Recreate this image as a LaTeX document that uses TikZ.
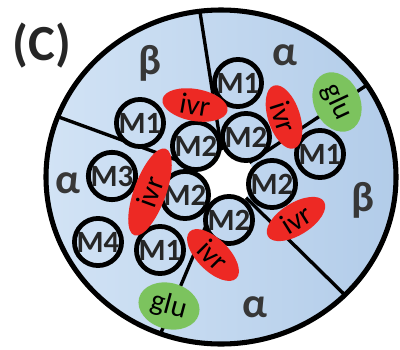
\documentclass[tikz,border=0pt]{standalone}
\usepackage{fontspec}
\setmainfont{Carlito}
\usetikzlibrary{shapes.geometric}
\definecolor{bgL}{RGB}{210,227,245}
\definecolor{bgR}{RGB}{178,204,233}
\definecolor{ivrred}{RGB}{237,41,36}
\definecolor{glugreen}{RGB}{124,195,94}
\definecolor{txtgray}{RGB}{55,55,55}

\begin{document}
\begin{tikzpicture}[x=0.25mm,y=-0.25mm,
  mol/.style={circle,draw=black,line width=3.4pt,minimum size=11mm,inner sep=0pt,
    font=\fontsize{22}{22}\selectfont\bfseries,text=black!85},
  ivr/.style={ellipse,fill=ivrred,minimum width=16.5mm,minimum height=8mm,inner sep=0pt,
    font=\fontsize{21}{21}\selectfont},
  glu/.style={ellipse,fill=glugreen,minimum width=15.5mm,minimum height=11.5mm,inner sep=0pt,
    font=\fontsize{21}{21}\selectfont},
  sub/.style={font=\fontsize{30}{30}\selectfont\bfseries,text=txtgray}]
\useasboundingbox (0,0) rectangle (400,349);
\coordinate (O) at (221,177);
\coordinate (H) at (226,178);
\shade[left color=bgL,right color=bgR] (O) ellipse [x radius=43.75mm,y radius=41.75mm];
% subunit borders
\begin{scope}
\clip (O) ellipse [x radius=43.75mm,y radius=41.75mm];
\foreach \p in {(200,12),(56,116),(367,85),(350,300),(160,335)}
  \draw[line width=2.4pt] (H) -- \p;
\end{scope}
\fill[white] (H) circle [radius=7mm];
% membrane domains
\foreach \n/\x/\y in {m1t/238/83,m1l/140/123,m1r/320/154,m1b/160/250,
  m2a/196/146,m2b/246/137,m2c/272/184,m2d/229/220,m2e/185/195,m3/112/176,m4/98/242}
  \coordinate (\n) at (\x,\y);
\foreach \n in {m1t,m1l,m1r,m1b,m2a,m2b,m2c,m2d,m2e,m3,m4}{
  \begin{scope}
  \clip (\n) circle [radius=5.6mm];
  \shade[left color=bgL,right color=bgR] (O) ellipse [x radius=43.75mm,y radius=41.75mm];
  \end{scope}}
\foreach \n/\t in {m1t/M1,m1l/M1,m1r/M1,m1b/M1,m2a/M2,m2b/M2,m2c/M2,m2d/M2,m2e/M2,m3/M3,m4/M4}
  \node[mol] (c\n) at (\n) {\t};
% ligand sites
\node[ivr,rotate=-10] (ivr1) at (195,105) {ivr};
\node[ivr,rotate=-72] (ivr2) at (284,117) {ivr};
\node[ivr,rotate=70,minimum width=23mm] (ivr3) at (150,192) {ivr};
\node[ivr,rotate=-45] (ivr4) at (213,255) {ivr};
\node[ivr,rotate=32] (ivr5) at (296,219) {ivr};
\node[glu,rotate=-65] (glu1) at (337,102) {glu};
\node[glu,rotate=-15] (glu2) at (169,306) {glu};
% subunits
\node[sub] (b1) at (150,63) {β};
\node[sub] (a1) at (285,55) {α};
\node[sub] (a2) at (68,183) {α};
\node[sub] (b2) at (363,200) {β};
\node[sub] (a3) at (255,307) {α};
\node[font=\fontsize{36}{36}\selectfont\bfseries,text=black!85] (lbl) at (42,46) {(C)};
\draw[line width=3.6pt] (O) ellipse [x radius=43.75mm,y radius=41.75mm];
\end{tikzpicture}
\end{document}
